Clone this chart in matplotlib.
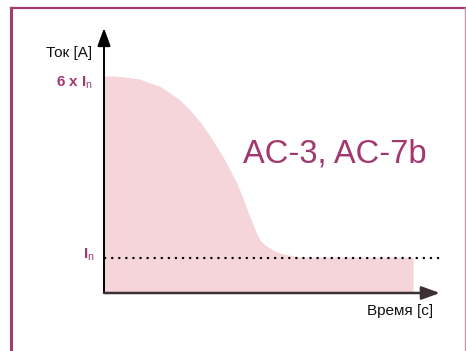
import matplotlib
matplotlib.use("Agg")
import matplotlib.pyplot as plt
from matplotlib.lines import Line2D

plt.rcParams['font.family'] = ['Liberation Sans', 'DejaVu Sans']
plt.rcParams['mathtext.fontset'] = 'custom'
plt.rcParams['mathtext.rm'] = 'Liberation Sans'
plt.rcParams['mathtext.bf'] = 'Liberation Sans:bold'

# starting current curve (time in arbitrary units, current in multiples of In)
time = [0, 0.36, 0.68, 1.17, 1.49, 1.81, 2.14, 2.46, 2.78, 3.11, 3.43, 3.85,
        4.08, 4.30, 4.47, 4.66, 4.79, 4.92, 5.05, 5.21, 5.47, 5.70, 5.92, 6.34, 10.0]
current = [6.2, 6.2, 6.17, 6.11, 6.0, 5.91, 5.71, 5.51, 5.23, 4.89, 4.49, 3.89,
           3.51, 3.14, 2.77, 2.31, 2.03, 1.74, 1.51, 1.37, 1.23, 1.14, 1.09, 1.03, 1.02]
rated = 1.0
peak_label = r'6 x I$_{\mathrm{n}}$'
rated_label = r'I$_{\mathrm{n}}$'
category = 'AC-3, AC-7b'

purple = '#a2386f'
fill_col = '#f5d5da'

fig = plt.figure(figsize=(4.66, 3.51), dpi=100)
ax = fig.add_axes([0, 0, 1, 1])
# 1 time unit = 30.9 px, 1 In = 35 px, origin at pixel (104, 293)
ax.set_xlim(-104 / 30.9, (466 - 104) / 30.9)
ax.set_ylim((293 - 351) / 35, 293 / 35)
ax.axis('off')

ax.fill_between(time, current, 0, color=fill_col, lw=0, zorder=1)

# rated current dotted line
ax.plot([0.03, 10.94], [rated, rated], color='black', lw=1.7,
        linestyle=(0, (0.1, 2.9)), dash_capstyle='round', zorder=3)

# axes with arrows
ax.annotate('', xy=(0, 7.57), xytext=(0, 0),
            arrowprops=dict(arrowstyle='-|>,head_length=0.55,head_width=0.2',
                            mutation_scale=20, lw=1.4, color='black',
                            shrinkA=0, shrinkB=0), zorder=4)
ax.annotate('', xy=(10.87, 0), xytext=(0, 0),
            arrowprops=dict(arrowstyle='-|>,head_length=0.55,head_width=0.2',
                            mutation_scale=20, lw=1.8, color='#3d3035',
                            shrinkA=0, shrinkB=0), zorder=4)

ax.text(-0.39, 6.86, 'Ток [A]', ha='right', va='center', fontsize=11, color='#111111')
ax.text(-0.36, 6.0, peak_label, ha='right', va='center', fontsize=11,
        color=purple, fontweight='bold')
ax.text(-0.29, 1.1, rated_label, ha='right', va='center', fontsize=11,
        color=purple, fontweight='bold')
ax.text(4.5, 3.98, category, ha='left', va='center', fontsize=23.5, color=purple)
ax.text(10.65, -0.52, 'Время [с]', ha='right', va='center', fontsize=11, color='#111111')

# frame
W, H = 466.0, 351.0
fig.add_artist(Line2D([10.5 / W, 465.5 / W], [1 - 8.3 / H, 1 - 8.3 / H],
                      transform=fig.transFigure, color='#a33c72', lw=1.6))
fig.add_artist(Line2D([10.8 / W, 10.8 / W], [0, 1 - 8.3 / H],
                      transform=fig.transFigure, color='#a33c72', lw=2.2))
fig.add_artist(Line2D([465.3 / W, 465.3 / W], [0, 1 - 8.3 / H],
                      transform=fig.transFigure, color='#c98fae', lw=1.0))

fig.savefig('out.png', dpi=100)
